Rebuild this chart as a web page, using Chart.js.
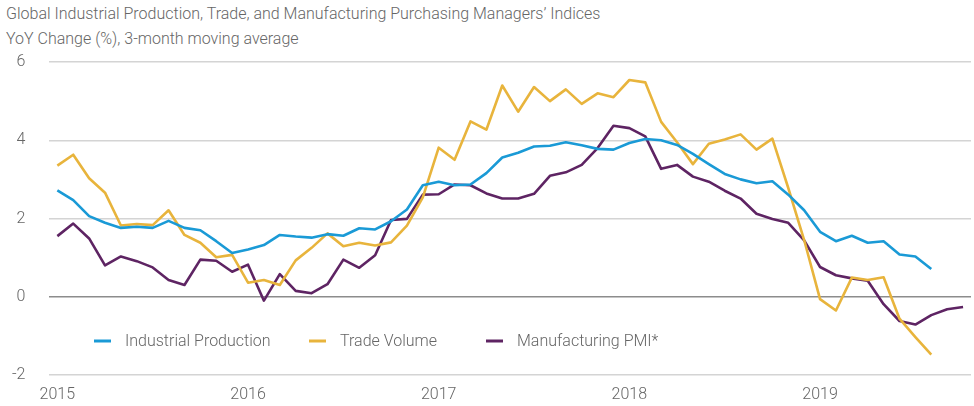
<!DOCTYPE html>
<html>
<head>
<meta charset="utf-8">
<script src="https://cdn.jsdelivr.net/npm/chart.js@4/dist/chart.umd.min.js"></script>
<style>
  body { margin: 0; background: #fff; }
  #wrap { position: relative; width: 974px; height: 406px; }
  .title { position: absolute; left: 6px; font-family: Roboto, "Liberation Sans", sans-serif;
           font-weight: 300; font-size: 16px; color: #666; white-space: nowrap; }
  #t1 { top: 4px; }
  #t2 { top: 29px; }
  canvas { position: absolute; left: 0; top: 0; }
</style>
</head>
<body>
<div id="wrap">
  <div class="title" id="t1">Global Industrial Production, Trade, and Manufacturing Purchasing Managers’ Indices</div>
  <div class="title" id="t2">YoY Change (%), 3-month moving average</div>
  <canvas id="mainChart" width="974" height="406"></canvas>
</div>
<script>
// monthly, Jan 2015 .. Oct 2019
const years = ["2015", "2016", "2017", "2018", "2019"];
const monthsShort = ["Jan", "Feb", "Mar", "Apr", "May", "Jun", "Jul", "Aug", "Sep", "Oct", "Nov", "Dec"];
const months = [];
years.forEach(y => monthsShort.forEach(m => months.push(m + " " + y)));
months.length = 58;

const industrialProduction = [
  2.72, 2.47, 2.06, 1.89, 1.76, 1.79, 1.76, 1.94, 1.76, 1.70, 1.42, 1.12,
  1.21, 1.32, 1.58, 1.54, 1.51, 1.60, 1.56, 1.75, 1.72, 1.93, 2.23, 2.85,
  2.94, 2.85, 2.87, 3.16, 3.56, 3.68, 3.84, 3.86, 3.95, 3.87, 3.78, 3.76,
  3.93, 4.03, 4.00, 3.88, 3.65, 3.39, 3.14, 3.00, 2.90, 2.95, 2.61, 2.21,
  1.66, 1.42, 1.56, 1.38, 1.42, 1.08, 1.03, 0.71, null, null
];
const tradeVolume = [
  3.35, 3.63, 3.03, 2.66, 1.82, 1.86, 1.83, 2.21, 1.58, 1.38, 1.01, 1.07,
  0.36, 0.43, 0.30, 0.93, 1.25, 1.62, 1.29, 1.38, 1.31, 1.39, 1.82, 2.54,
  3.81, 3.50, 4.48, 4.27, 5.40, 4.73, 5.36, 5.00, 5.30, 4.93, 5.20, 5.10,
  5.54, 5.48, 4.47, 3.95, 3.39, 3.91, 4.02, 4.15, 3.76, 4.04, 2.78, 1.45,
  -0.06, -0.35, 0.49, 0.43, 0.50, -0.56, -1.03, -1.48, null, null
];
const manufacturingPMI = [
  1.55, 1.87, 1.49, 0.80, 1.03, 0.91, 0.75, 0.43, 0.30, 0.95, 0.92, 0.64,
  0.82, -0.10, 0.58, 0.15, 0.09, 0.32, 0.95, 0.74, 1.06, 1.96, 1.99, 2.61,
  2.62, 2.87, 2.85, 2.64, 2.51, 2.51, 2.63, 3.09, 3.18, 3.37, 3.80, 4.37,
  4.31, 4.10, 3.27, 3.37, 3.07, 2.94, 2.71, 2.51, 2.12, 1.99, 1.89, 1.44,
  0.76, 0.55, 0.47, 0.41, -0.19, -0.62, -0.71, -0.47, -0.32, -0.26
];
const yTicks = [-2, 0, 2, 4, 6];

const FONT = "Roboto, 'Liberation Sans', sans-serif";
const GRAY = "#666";

// legend drawn inside the plot area
const innerLegend = {
  id: "innerLegend",
  afterDatasetsDraw(chart, args, opts) {
    const ctx = chart.ctx;
    ctx.save();
    ctx.font = `300 16px ${FONT}`;
    ctx.textBaseline = "middle";
    chart.data.datasets.forEach((ds, i) => {
      const x = opts.xs[i];
      ctx.strokeStyle = ds.borderColor;
      ctx.lineWidth = 3;
      ctx.beginPath();
      ctx.moveTo(x, opts.y);
      ctx.lineTo(x + 17, opts.y);
      ctx.stroke();
      ctx.fillStyle = GRAY;
      ctx.fillText(ds.label, x + 31, opts.y + 1);
    });
    ctx.restore();
  }
};

const ctx = document.getElementById("mainChart").getContext("2d");
new Chart(ctx, {
  type: "line",
  data: {
    labels: months,
    datasets: [
      { label: "Industrial Production", data: industrialProduction, borderColor: "#1a9ad6" },
      { label: "Trade Volume", data: tradeVolume, borderColor: "#e8b43c" },
      { label: "Manufacturing PMI*", data: manufacturingPMI, borderColor: "#5e2463" }
    ]
  },
  options: {
    responsive: false,
    animation: false,
    devicePixelRatio: 1,
    elements: {
      line: { borderWidth: 2.6, tension: 0, borderJoinStyle: "round" },
      point: { radius: 0 }
    },
    layout: { padding: { top: 62, left: 11, right: 3, bottom: 1 } },
    plugins: {
      legend: { display: false },
      tooltip: { enabled: false },
      innerLegend: { xs: [94, 309, 486], y: 341 }
    },
    scales: {
      x: {
        offset: true,
        grid: { display: false, drawTicks: false },
        border: { display: false },
        ticks: {
          autoSkip: false,
          maxRotation: 0,
          padding: 10,
          color: GRAY,
          font: { family: FONT, size: 16, weight: 300 },
          callback: function (v, i) {
            return i % 12 === 0 ? years[i / 12] : "";
          }
        },
        afterFit: axis => { axis.height = 30; }
      },
      y: {
        min: -2,
        max: 6,
        afterBuildTicks: axis => { axis.ticks = yTicks.map(v => ({ value: v })); },
        grid: {
          drawTicks: true,
          tickLength: 20,
          tickColor: "rgba(0,0,0,0)",
          lineWidth: 1.5,
          color: c => c.tick.value === 0 ? "#8c8c8c" : "#d4d4d4"
        },
        border: { display: false },
        ticks: {
          padding: 4,
          color: GRAY,
          font: { family: FONT, size: 16, weight: 300 }
        },
        afterFit: axis => { axis.width = 38.4; }
      }
    }
  },
  plugins: [innerLegend]
});
</script>
</body>
</html>
